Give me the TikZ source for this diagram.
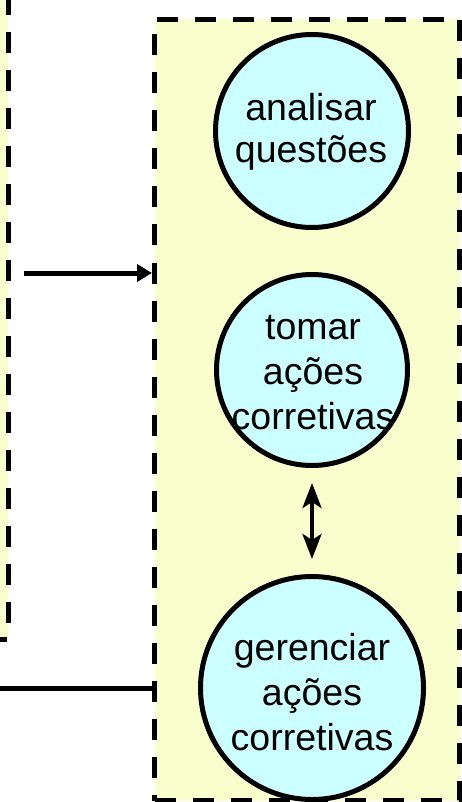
\documentclass[tikz,border=0pt]{standalone}
\usepackage{fontspec}
\setmainfont{Liberation Sans}
\usetikzlibrary{arrows.meta}
\definecolor{boxyellow}{RGB}{248,255,204}
\definecolor{circcyan}{RGB}{204,255,255}
\tikzset{
  dashbox/.style={draw=black, line width=5pt, dash pattern=on 21pt off 17pt, fill=boxyellow},
  circ/.style={circle, draw=black, line width=5pt, fill=circcyan, inner sep=0pt},
  lbl/.style={align=center, inner sep=0pt, font=\fontsize{37.5}{45}\selectfont},
  conn/.style={draw=black, line width=5pt},
}
\begin{document}
\begin{tikzpicture}[x=1pt, y=-1pt]
\useasboundingbox (0,0) rectangle (462,802);
% left box (partially visible)
\fill[boxyellow] (-10,-10) rectangle (8,639);
\coordinate (lt) at (8,-6);
\coordinate (lc) at (8,639);
\coordinate (lb) at (-10,639);
\draw[line width=5pt, dash pattern=on 21pt off 17pt] (lt) -- (lc) -- (lb);
% right box
\node[dashbox, rectangle, minimum width=305pt, minimum height=781pt, inner sep=0pt, anchor=north west] (rbox) at (152,17) {};
% circles
\node[circ, minimum size=193pt] (c1) at (312,131) {};
\node[lbl, font=\fontsize{37.5}{42}\selectfont] (t1) at (311,132) {analisar\\questões};
\node[circ, minimum size=191pt] (c2) at (312,370) {};
\node[lbl] (t2) at (313,373) {tomar\\ações\\corretivas};
\node[circ, minimum size=223pt] (c3) at (312,688) {};
\node[lbl] (t3) at (312,692) {gerenciar\\ações\\corretivas};
% connectors
\coordinate (a1) at (24,273);
\draw[conn, -{Triangle[length=15pt, width=17pt]}] (a1) -- (rbox.west |- a1);
\draw[conn, {Stealth[length=25pt, width=19pt, inset=6pt]}-{Stealth[length=25pt, width=19pt, inset=6pt]}, line width=4pt] ([yshift=-15pt]c2.south) -- ([yshift=15pt]c3.north);
\coordinate (a2) at (0,688);
\draw[conn] (a2) -- (rbox.west |- a2);
\end{tikzpicture}
\end{document}
